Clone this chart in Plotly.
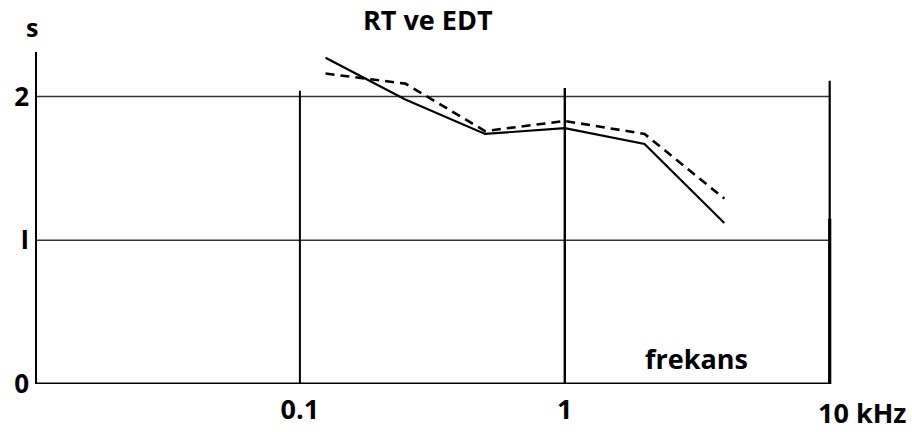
import plotly.graph_objects as go

# Octave-band centre frequencies (kHz) and measured times (s)
freq_khz = [0.125, 0.25, 0.5, 1, 2, 4]
rt_s = [2.27, 1.98, 1.74, 1.78, 1.67, 1.12]
edt_s = [2.16, 2.09, 1.76, 1.83, 1.74, 1.29]

x_tick_vals = [0.1, 1]
x_tick_text = ["<b>0.1</b>", "<b>1</b>"]
y_tick_vals = [0, 1, 2]
y_tick_text = ["<b>0</b>", "<b>I</b>", "<b>2</b>"]

FONT = "Open Sans"
FS = 27
fig = go.Figure()

def seg(x, y, width, color="black"):
    fig.add_trace(go.Scatter(x=x, y=y, mode="lines", hoverinfo="skip",
                             showlegend=False,
                             line=dict(color=color, width=width)))

# grid frame
seg([0.01, 10.1], [2, 2], 1.6, "#333")
seg([0.01, 10.1], [1, 1], 1.6, "#333")
seg([0.1, 0.1], [0, 2.04], 2)
seg([1, 1], [0, 2.06], 2.4)
# axes
seg([0.01, 10], [0, 0], 3)
seg([0.01, 0.01], [0, 2.31], 4)

fig.add_trace(go.Scatter(x=freq_khz, y=rt_s, mode="lines", name="RT",
                         line=dict(color="black", width=2.2)))
fig.add_trace(go.Scatter(x=freq_khz, y=edt_s, mode="lines", name="EDT",
                         line=dict(color="black", width=2.6, dash="9px,6px")))

# right-hand border at 10 kHz
fig.add_shape(type="line", xref="x", yref="y", x0=10, x1=10, y0=0, y1=2.11,
              line=dict(color="black", width=2.2), layer="above")
fig.add_shape(type="line", xref="x", yref="y", x0=10, x1=10, y0=0, y1=1.15,
              line=dict(color="black", width=3.2), layer="above")

fig.update_layout(
    width=912, height=432,
    margin=dict(l=35, r=77, t=52, b=48, autoexpand=False),
    paper_bgcolor="white", plot_bgcolor="white",
    showlegend=False,
    font=dict(family=FONT, color="black", size=FS),
    xaxis=dict(type="log", range=[-2, 1.02], showgrid=False, zeroline=False,
               showline=False, tickvals=x_tick_vals, ticktext=x_tick_text,
               ticks="", ticklabelstandoff=7, automargin=False,
               tickfont=dict(size=FS, family=FONT)),
    yaxis=dict(range=[0, 2.31], showgrid=False, zeroline=False,
               showline=False, tickvals=y_tick_vals, ticktext=y_tick_text,
               ticks="", ticklabelstandoff=5, automargin=False,
               tickfont=dict(size=FS - 1, family=FONT)),
    annotations=[
        dict(text="<b>RT ve EDT</b>", xref="paper", yref="paper",
             x=(428 - 35) / 800, y=1, yshift=12, yanchor="bottom",
             showarrow=False, font=dict(size=FS, family=FONT)),
        dict(text="<b>s</b>", xref="paper", yref="paper", x=0, y=1,
             xshift=-11, yshift=6, yanchor="bottom", showarrow=False,
             font=dict(size=FS - 2, family=FONT)),
        dict(text="<b>frekans</b>", xref="paper", yref="y",
             x=(696 - 35) / 800, y=0.18,
             xanchor="center", yanchor="middle",
             showarrow=False, font=dict(size=FS, family=FONT)),
        dict(text="<b>10 kHz</b>", xref="paper", yref="paper",
             x=(830 - 35) / 800, y=0,
             xanchor="left", yanchor="top", xshift=-14, yshift=-8,
             showarrow=False, font=dict(size=FS, family=FONT)),
    ],
)

fig.write_html("out.html")
